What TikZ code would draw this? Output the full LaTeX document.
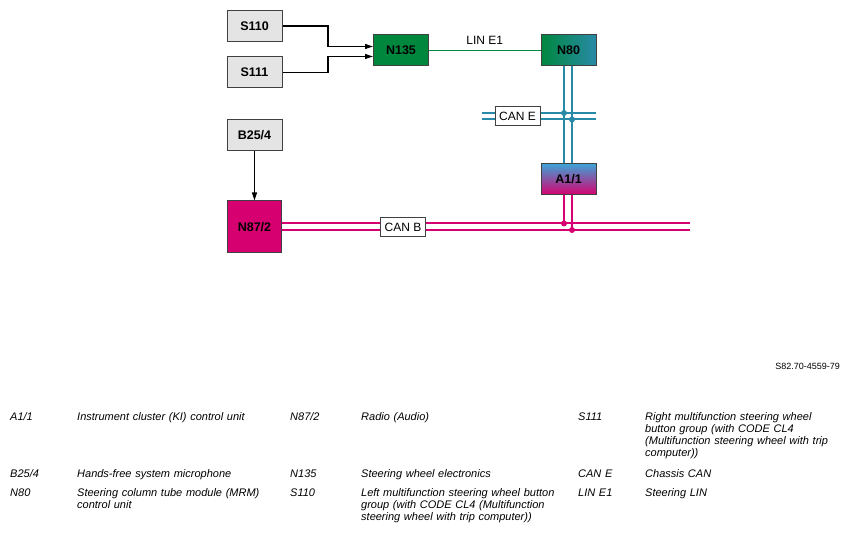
\documentclass[tikz,border=0pt]{standalone}
\usepackage{fontspec}
\setmainfont{Liberation Sans}
\usetikzlibrary{arrows.meta}
\usetikzlibrary{calc}

\definecolor{swgreen}{RGB}{0,135,62}
\definecolor{canteal}{RGB}{40,138,166}
\definecolor{canblue}{RGB}{60,165,215}
\definecolor{canmag}{RGB}{214,0,112}
\definecolor{boxgrey}{RGB}{228,228,228}
\definecolor{edgegrey}{RGB}{64,64,64}

\begin{document}
\begin{tikzpicture}[x=1pt, y=-1pt,
  every node/.style={inner sep=0pt},
  unit/.style={draw=edgegrey, line width=1pt, minimum width=55pt, minimum height=31pt,
    font=\fontsize{12.5}{14}\selectfont\bfseries},
  sig/.style={draw=black, line width=1.2pt, -{Triangle[length=8pt,width=5pt]}},
  canEline/.style={draw=canteal, line width=2pt},
  canBline/.style={draw=canmag, line width=2pt},
  buslabel/.style={draw=edgegrey, fill=white, line width=0.8pt, minimum width=45pt,
    minimum height=19pt, font=\fontsize{12}{14}\selectfont},
  legtext/.style={anchor=base west, text width=215pt, align=left,
    font=\fontsize{11}{12}\selectfont\itshape}]
  \useasboundingbox (0,0) rectangle (849,534);

  \node[unit, fill=boxgrey] (S110) at (254.5,26) {S110};
  \node[unit, fill=boxgrey] (S111) at (254.5,72.5) {S111};
  \node[unit, fill=boxgrey] (B254) at (254.5,135) {B25/4};
  \node[unit, fill=canmag, minimum width=54pt, minimum height=52pt] (N872) at (254.5,227) {N87/2};
  \node[unit, fill=swgreen] (N135) at (401,50.5) {N135};
  \node[unit, left color=swgreen, right color=canteal] (N80) at (568.5,50.5) {N80};
  \node[unit, top color=canblue, bottom color=canmag] (A11) at (568.5,179) {A1/1};

  \coordinate (xl) at ($(N80.south)+(-4.5,0)$);
  \coordinate (xr) at ($(N80.south)+(3.5,0)$);
  \coordinate (CE1w) at (482,113);
  \coordinate (CE1e) at (596,113);
  \coordinate (CE2w) at (482,119.5);
  \coordinate (CE2e) at (596,119.5);
  \coordinate (CB1e) at (690,223.5);
  \coordinate (CB2e) at (690,230);

  \draw[sig] (S110.east) -- ++(45.5,0) |- ($(N135.west)+(0,-4)$);
  \draw[sig] (S111.east) -- ++(45.5,0) |- ($(N135.west)+(0,6)$);
  \draw[sig] (B254) -- (N872);
  \draw[swgreen, line width=1pt] (N135) -- node[above=5pt, text=black, font=\fontsize{12}{14}\selectfont] {LIN E1} (N80);

  \draw[canEline] (CE1w) -- (CE1e);
  \draw[canEline] (CE2w) -- (CE2e);
  \draw[canEline] (xl) -- (xl |- A11.north);
  \draw[canEline] (xr) -- (xr |- A11.north);
  \draw[canBline] (N872.east |- CB1e) -- (CB1e);
  \draw[canBline] (N872.east |- CB2e) -- (CB2e);
  \draw[canBline] (xl |- A11.south) -- (xl |- CB1e);
  \draw[canBline] (xr |- A11.south) -- (xr |- CB2e);
  \fill[canteal] (xl |- CE1w) circle (3);
  \fill[canteal] (xr |- CE2w) circle (3);
  \fill[canmag] (xl |- CB1e) circle (3);
  \fill[canmag] (xr |- CB2e) circle (3);

  \node[buslabel] (labCANE) at (517.5,116) {CAN E};
  \node[buslabel] (labCANB) at (403,227) {CAN B};

  \node[anchor=base east, font=\fontsize{9}{11}\selectfont] (fig) at (840,370) {S82.70-4559-79};

  \node[legtext] (kA11) at (10,420.5) {A1/1};
  \node[legtext] (dA11) at (77,420.5) {Instrument cluster (KI) control unit};
  \node[legtext] (kB254) at (10,478) {B25/4};
  \node[legtext] (dB254) at (77,478) {Hands-free system microphone};
  \node[legtext] (kN80) at (10,496.5) {N80};
  \node[legtext] (dN80) at (77,496.5) {Steering column tube module (MRM)\\control unit};
  \node[legtext] (kN872) at (290,420.5) {N87/2};
  \node[legtext] (dN872) at (361,420.5) {Radio (Audio)};
  \node[legtext] (kN135) at (290,478) {N135};
  \node[legtext] (dN135) at (361,478) {Steering wheel electronics};
  \node[legtext] (kS110) at (290,496.5) {S110};
  \node[legtext] (dS110) at (361,496.5) {Left multifunction steering wheel button\\group (with CODE CL4 (Multifunction\\steering wheel with trip computer))};
  \node[legtext] (kS111) at (578,420.5) {S111};
  \node[legtext] (dS111) at (645,420.5) {Right multifunction steering wheel\\button group (with CODE CL4\\(Multifunction steering wheel with trip\\computer))};
  \node[legtext] (kCANE) at (578,478) {CAN E};
  \node[legtext] (dCANE) at (645,478) {Chassis CAN};
  \node[legtext] (kLINE1) at (578,496.5) {LIN E1};
  \node[legtext] (dLINE1) at (645,496.5) {Steering LIN};
\end{tikzpicture}
\end{document}
